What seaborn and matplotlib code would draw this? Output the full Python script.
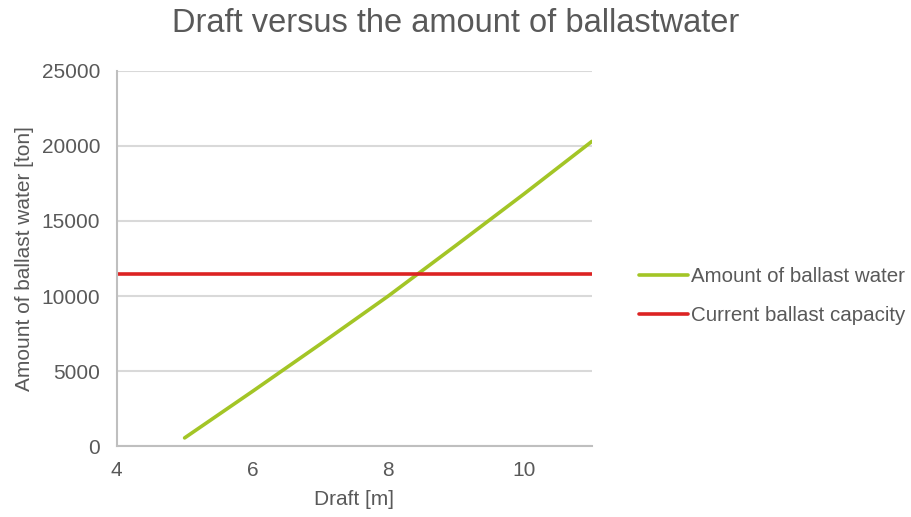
import pandas as pd
import matplotlib.pyplot as plt
import seaborn as sns

# values
draft = [5, 6, 7, 8, 9, 10, 11]
ballast_water = [550, 3650, 6800, 10000, 13380, 16800, 20300]
capacity_draft = [4, 11]
capacity = [11450, 11450]

sns.set_theme(style="white")
plt.rcParams['font.family'] = ['Liberation Sans', 'DejaVu Sans']
txt = "#595959"

df = pd.DataFrame({"Draft": draft, "Ballast": ballast_water, "series": "Amount of ballast water"})
df_cap = pd.DataFrame({"Draft": capacity_draft, "Ballast": capacity, "series": "Current ballast capacity"})

fig = plt.figure(figsize=(9.12, 5.17), dpi=100)
ax = fig.add_axes([0.128, 0.137, 0.521, 0.726])

sns.lineplot(data=df, x="Draft", y="Ballast", color="#a3c526", linewidth=2.6, ax=ax,
             label="Amount of ballast water")
sns.lineplot(data=df_cap, x="Draft", y="Ballast", color="#dc2323", linewidth=2.6, ax=ax,
             label="Current ballast capacity")

ax.set_xlim(4, 11)
ax.set_ylim(0, 25000)
ax.set_xticks([4, 6, 8, 10])
ax.set_yticks(range(0, 25001, 5000))
ax.yaxis.grid(True, color="#d9d9d9", linewidth=1.5)
ax.set_axisbelow(True)
for s in ["top", "right"]:
    ax.spines[s].set_visible(False)
for s in ["left", "bottom"]:
    ax.spines[s].set_color("#bfbfbf")
    ax.spines[s].set_linewidth(1.5)
ax.tick_params(axis="both", length=0, labelsize=15, labelcolor=txt)
ax.tick_params(axis="x", pad=11)
ax.tick_params(axis="y", pad=12)

ax.set_xlabel("Draft [m]", fontsize=15, color=txt, labelpad=7)
ax.set_ylabel("Amount of ballast water [ton]", fontsize=15, color=txt, labelpad=5)
fig.suptitle("Draft versus the amount of ballastwater", fontsize=23.5, color=txt, x=0.5, y=0.985)

ax.legend(loc="center left", bbox_to_anchor=(1.06, 0.4), frameon=False, fontsize=14.8,
          labelcolor=txt, handlelength=2.4, handletextpad=0.15, labelspacing=0.95)

fig.savefig("out.png", dpi=100)
